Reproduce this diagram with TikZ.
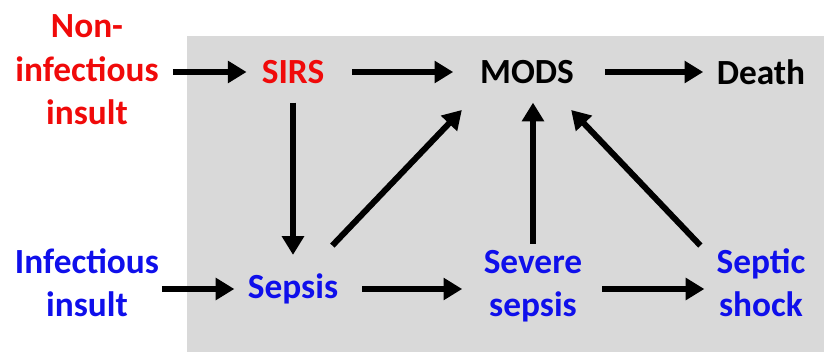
\documentclass[tikz,border=0pt]{standalone}
\usepackage{fontspec}
\setmainfont{Carlito}
\usetikzlibrary{arrows.meta,calc}
\definecolor{panelgray}{RGB}{217,217,217}
\definecolor{insultred}{RGB}{240,10,10}
\definecolor{sepsisblue}{RGB}{15,15,235}

\begin{document}
\begin{tikzpicture}[
    x=0.75pt, y=-0.75pt,
    >={Triangle[length=14pt,width=16pt]},
    stage/.style={font=\fontsize{26.5}{32.5}\selectfont\bfseries, align=center,
        inner sep=0pt},
    sterile/.style={stage, text=insultred},
    infective/.style={stage, text=sepsisblue},
    outcome/.style={stage, text=black},
    flow/.style={->, line width=4.5pt},
]
\useasboundingbox (0,0) rectangle (824,352);
\fill[panelgray] (187,36) rectangle (824,352);

\node[sterile] (noninf) at (87,70) {Non-\\infectious\\insult};
\node[sterile] (sirs) at (293,72) {SIRS};
\node[outcome] (mods) at (527,72) {MODS};
\node[outcome] (death) at (761,72) {Death};
\node[infective] (infect) at (87,283) {Infectious\\insult};
\node[infective] (sepsis) at (293,289) {Sepsis};
\node[infective] (severe) at (533,286) {Severe\\sepsis};
\node[infective] (shock) at (761,283) {Septic\\shock};

% top row
\draw[flow, shorten <=10.5pt, shorten >=11.25pt] (noninf.east |- sirs) -- (sirs);
\draw[flow, shorten <=21pt, shorten >=20pt] (sirs) -- (mods);
\draw[flow, shorten <=23pt, shorten >=10pt] (mods) -- (death);
% bottom row
\draw[flow, shorten <=2pt, shorten >=10pt] (infect.east |- sepsis) -- (sepsis);
\draw[flow, shorten <=18pt, shorten >=16pt] (sepsis) -- (severe.west |- sepsis);
\draw[flow, shorten <=15pt, shorten >=9pt] (severe.east |- sepsis) -- (shock.west |- sepsis);
% into sepsis and MODS
\draw[flow, shorten <=14pt, shorten >=14pt] (sirs) -- (sepsis);
\draw[flow] ($(sepsis.north east)+(-6,-28)$) -- ($(mods.south west)+(-18,26)$);
\draw[flow, shorten <=4.5pt, shorten >=14pt] (severe) -- (severe |- mods.south);
\draw[flow] ($(shock.north west)+(-16,-3)$) -- ($(mods.south east)+(-3,26)$);
\end{tikzpicture}
\end{document}
